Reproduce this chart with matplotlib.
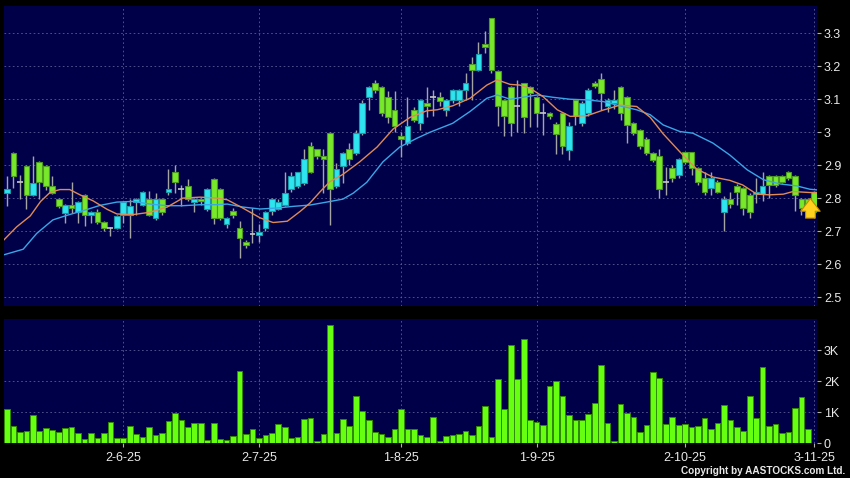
import matplotlib
matplotlib.use("Agg")
import matplotlib.pyplot as plt
from matplotlib.ticker import FuncFormatter
import numpy as np

plt.rcParams['font.family'] = ['Liberation Sans', 'DejaVu Sans']

# Daily OHLC (one entry per trading day)
opens = [2.815, 2.936, 2.848, 2.897, 2.810, 2.909, 2.897, 2.837, 2.796, 2.756,
         2.779, 2.757, 2.809, 2.749, 2.757, 2.727, 2.708, 2.708, 2.749, 2.749,
         2.788, 2.780, 2.796, 2.740, 2.797, 2.818, 2.880, 2.828, 2.838, 2.788,
         2.798, 2.768, 2.859, 2.828, 2.720, 2.760, 2.710, 2.668, 2.690, 2.688,
         2.710, 2.760, 2.767, 2.780, 2.827, 2.837, 2.847, 2.957, 2.948, 2.928,
         2.997, 2.837, 2.898, 2.948, 2.937, 2.997, 3.106, 3.148, 3.136, 3.106,
         3.068, 2.989, 2.967, 3.068, 3.027, 3.088, 3.106, 3.106, 3.068, 3.098,
         3.098, 3.128, 3.207, 3.189, 3.268, 3.345, 3.187, 3.098, 3.136, 3.080,
         3.148, 3.136, 3.108, 3.057, 3.057, 3.026, 3.057, 2.947, 3.097, 3.028,
         3.059, 3.149, 3.160, 3.081, 3.089, 3.137, 3.107, 3.028, 3.008, 2.980,
         2.937, 2.929, 2.849, 2.890, 2.869, 2.939, 2.939, 2.890, 2.860, 2.830,
         2.850, 2.759, 2.797, 2.838, 2.830, 2.810, 2.812, 2.812, 2.868, 2.868,
         2.868, 2.880, 2.868, 2.797, 2.797, 2.820]
highs = [2.867, 2.940, 2.870, 2.900, 2.929, 2.912, 2.900, 2.867, 2.800, 2.782,
         2.848, 2.790, 2.812, 2.762, 2.767, 2.730, 2.712, 2.750, 2.790, 2.796,
         2.800, 2.822, 2.822, 2.815, 2.800, 2.889, 2.900, 2.840, 2.859, 2.800,
         2.800, 2.830, 2.862, 2.832, 2.742, 2.770, 2.730, 2.672, 2.770, 2.720,
         2.760, 2.800, 2.797, 2.878, 2.878, 2.880, 2.948, 2.969, 2.950, 2.950,
         3.000, 2.908, 2.940, 2.966, 3.007, 3.098, 3.140, 3.159, 3.140, 3.126,
         3.126, 3.000, 3.106, 3.075, 3.100, 3.136, 3.128, 3.123, 3.100, 3.130,
         3.130, 3.179, 3.229, 3.275, 3.308, 3.347, 3.190, 3.100, 3.140, 3.157,
         3.150, 3.140, 3.110, 3.090, 3.060, 3.030, 3.060, 3.030, 3.100, 3.095,
         3.135, 3.155, 3.180, 3.105, 3.129, 3.140, 3.110, 3.032, 3.010, 2.985,
         2.940, 2.950, 2.895, 2.900, 2.922, 2.940, 2.940, 2.895, 2.880, 2.880,
         2.855, 2.805, 2.820, 2.842, 2.835, 2.815, 2.860, 2.880, 2.870, 2.870,
         2.870, 2.882, 2.870, 2.800, 2.800, 2.822]
lows = [2.776, 2.830, 2.796, 2.766, 2.805, 2.796, 2.826, 2.812, 2.770, 2.725,
        2.755, 2.725, 2.715, 2.725, 2.720, 2.700, 2.685, 2.705, 2.725, 2.678,
        2.750, 2.775, 2.745, 2.735, 2.750, 2.810, 2.816, 2.776, 2.790, 2.757,
        2.780, 2.760, 2.720, 2.735, 2.710, 2.740, 2.619, 2.650, 2.665, 2.667,
        2.700, 2.750, 2.763, 2.775, 2.820, 2.830, 2.840, 2.875, 2.920, 2.815,
        2.717, 2.830, 2.847, 2.900, 2.930, 2.990, 3.068, 3.120, 3.050, 3.027,
        3.000, 2.926, 2.960, 3.030, 3.007, 3.047, 3.050, 3.078, 3.050, 3.090,
        3.080, 3.098, 3.098, 3.185, 3.240, 3.180, 3.019, 2.989, 2.989, 3.000,
        2.997, 3.017, 3.017, 2.990, 3.040, 2.935, 2.935, 2.917, 3.021, 3.020,
        3.050, 3.135, 3.067, 3.060, 3.070, 3.038, 2.968, 2.990, 2.950, 2.930,
        2.910, 2.800, 2.810, 2.850, 2.860, 2.905, 2.870, 2.840, 2.810, 2.810,
        2.815, 2.699, 2.770, 2.780, 2.750, 2.740, 2.785, 2.790, 2.800, 2.835,
        2.845, 2.855, 2.760, 2.750, 2.760, 2.755]
closes = [2.827, 2.867, 2.848, 2.810, 2.847, 2.848, 2.838, 2.816, 2.777, 2.779,
          2.770, 2.787, 2.749, 2.757, 2.727, 2.708, 2.708, 2.747, 2.787, 2.777,
          2.798, 2.818, 2.750, 2.797, 2.758, 2.828, 2.850, 2.828, 2.798, 2.798,
          2.791, 2.828, 2.740, 2.740, 2.740, 2.750, 2.680, 2.658, 2.690, 2.698,
          2.758, 2.798, 2.787, 2.817, 2.868, 2.878, 2.918, 2.879, 2.927, 2.918,
          2.827, 2.888, 2.936, 2.918, 2.997, 3.089, 3.136, 3.128, 3.058, 3.047,
          3.019, 2.979, 3.019, 3.037, 3.098, 3.078, 3.106, 3.096, 3.098, 3.128,
          3.128, 3.148, 3.189, 3.237, 3.258, 3.189, 3.078, 3.049, 3.027, 3.080,
          3.047, 3.118, 3.058, 3.057, 3.049, 2.996, 2.958, 3.018, 3.048, 3.089,
          3.129, 3.139, 3.119, 3.099, 3.099, 3.059, 3.021, 2.998, 2.958, 2.937,
          2.917, 2.829, 2.849, 2.860, 2.919, 2.911, 2.890, 2.850, 2.820, 2.860,
          2.820, 2.797, 2.781, 2.820, 2.769, 2.759, 2.820, 2.838, 2.840, 2.840,
          2.850, 2.860, 2.810, 2.770, 2.770, 2.759]

# Volume in thousands
volumes = [1.10, 0.57, 0.35, 0.39, 0.91, 0.41, 0.48, 0.42, 0.38, 0.49,
           0.52, 0.34, 0.13, 0.33, 0.17, 0.32, 0.70, 0.16, 0.17, 0.56,
           0.30, 0.19, 0.52, 0.27, 0.33, 0.72, 0.97, 0.76, 0.54, 0.66,
           0.66, 0.12, 0.66, 0.14, 0.10, 0.24, 2.34, 0.29, 0.47, 0.16,
           0.26, 0.32, 0.61, 0.54, 0.16, 0.19, 0.78, 0.81, 0.06, 0.30,
           3.81, 0.33, 0.77, 0.56, 1.52, 1.03, 0.76, 0.37, 0.30, 0.19,
           0.46, 1.10, 0.46, 0.46, 0.26, 0.20, 0.84, 0.06, 0.22, 0.26,
           0.29, 0.40, 0.27, 0.55, 1.19, 0.19, 2.08, 1.10, 3.17, 2.08,
           3.37, 0.74, 0.68, 0.60, 1.86, 2.00, 1.51, 0.91, 0.75, 0.75,
           0.94, 1.29, 2.54, 0.65, 0.09, 1.28, 0.99, 0.84, 0.37, 0.60,
           2.30, 2.10, 0.62, 0.86, 0.59, 0.62, 0.54, 0.56, 0.82, 0.46,
           0.67, 1.24, 0.75, 0.54, 0.39, 1.53, 0.82, 2.46, 0.56, 0.62,
           0.33, 0.37, 1.14, 1.48, 0.46, 0.0]

# Moving averages (position in days, value)
ma_fast_x = [-0.5, 1.5, 3.6, 5.2, 6.7, 8.2, 9.7, 11.3, 13.3, 15.5, 17.0, 19.5, 22.1,
             24.8, 27.2, 29.9, 32.5, 34.1, 36.5, 39.2, 41.2, 43.4, 45.4, 46.9, 48.5,
             50.0, 52.0, 54.6, 57.3, 59.8, 62.4, 65.0, 66.6, 69.0, 71.7, 74.3, 75.9,
             77.9, 79.4, 81.0, 83.0, 85.2, 87.2, 89.8, 92.3, 94.9, 97.5, 99.6, 101.6,
             104.2, 106.8, 109.3, 111.9, 113.9, 116.1, 118.1, 120.2, 121.7, 124.3, 125.4]
ma_fast = [2.673, 2.713, 2.746, 2.790, 2.818, 2.826, 2.826, 2.810, 2.792, 2.766, 2.752,
           2.750, 2.757, 2.773, 2.800, 2.803, 2.800, 2.795, 2.770, 2.740, 2.726, 2.730,
           2.760, 2.785, 2.820, 2.850, 2.872, 2.910, 2.955, 3.010, 3.045, 3.065, 3.068,
           3.080, 3.103, 3.143, 3.159, 3.145, 3.143, 3.133, 3.108, 3.068, 3.048, 3.050,
           3.067, 3.082, 3.078, 3.045, 2.995, 2.940, 2.888, 2.864, 2.854, 2.840, 2.812,
           2.810, 2.812, 2.820, 2.817, 2.817]
ma_slow_x = [-0.5, 2.5, 4.6, 7.1, 9.3, 11.8, 14.4, 17.0, 19.5, 22.1, 24.8, 27.2, 29.9,
             32.5, 34.1, 36.5, 39.2, 41.8, 44.3, 46.9, 49.5, 52.0, 53.6, 55.7, 58.2,
             60.8, 63.5, 65.5, 69.0, 71.7, 74.3, 75.9, 77.9, 82.1, 84.5, 87.2, 89.8,
             92.3, 94.9, 97.5, 99.6, 101.6, 104.2, 106.2, 109.3, 111.9, 114.6, 117.1,
             119.7, 122.3, 124.3, 125.4]
ma_slow = [2.628, 2.645, 2.693, 2.734, 2.748, 2.762, 2.778, 2.788, 2.790, 2.782, 2.777,
           2.777, 2.780, 2.780, 2.782, 2.773, 2.767, 2.770, 2.775, 2.779, 2.788, 2.797,
           2.815, 2.848, 2.910, 2.955, 2.982, 3.000, 3.027, 3.063, 3.103, 3.113, 3.100,
           3.113, 3.106, 3.100, 3.098, 3.093, 3.080, 3.068, 3.053, 3.022, 3.002, 2.997,
           2.967, 2.931, 2.886, 2.856, 2.843, 2.837, 2.827, 2.825]

# Date labels and the trading-day index they sit on
date_pos = [18, 39, 61, 82, 105, 125]
date_labels = ['2-6-25', '2-7-25', '1-8-25', '1-9-25', '2-10-25', '3-11-25']

price_ticks = [2.5, 2.6, 2.7, 2.8, 2.9, 3.0, 3.1, 3.2, 3.3]
vol_ticks = [0, 1, 2, 3]

# Colours
bg_panel = '#000049'
up_color = '#2ee4ee'
up_edge = '#1a9aa8'
down_color = '#78e82a'
down_edge = '#4c9a22'
wick_color = '#a4a4a4'
grid_color = '#5c5c96'
text_color = '#e8e8e8'

opens, highs, lows, closes = map(np.array, (opens, highs, lows, closes))
x = np.arange(len(closes))

fig = plt.figure(figsize=(8.5, 4.78), dpi=100, facecolor='black')
ax = fig.add_axes([0.0047, 0.3598, 0.9565, 0.6276], facecolor=bg_panel)
axv = fig.add_axes([0.0047, 0.0726, 0.9565, 0.2600], facecolor=bg_panel, sharex=ax)

# Grid first so marks sit on top
for a in (ax, axv):
    for s in a.spines.values():
        s.set_visible(False)
    a.grid(True, color=grid_color, linestyle=(0, (2, 3)), linewidth=0.6)
    a.set_axisbelow(True)

# Wicks
ax.vlines(x, lows, highs, color=wick_color, linewidth=1.0, zorder=2)

# Bodies
up = closes > opens
down = closes < opens
flat = ~(up | down)
ax.bar(x[up], (closes - opens)[up], bottom=opens[up], width=0.88,
       color=up_color, edgecolor=up_edge, linewidth=0.8, zorder=3)
ax.bar(x[down], (opens - closes)[down], bottom=closes[down], width=0.88,
       color=down_color, edgecolor=down_edge, linewidth=0.8, zorder=3)
ax.hlines(closes[flat], x[flat] - 0.45, x[flat] + 0.45, color='#c8c8c8',
          linewidth=1.2, zorder=3)

# Moving averages
ax.plot(ma_slow_x, ma_slow, color='#3aa6e6', linewidth=1.0, zorder=4)
ax.plot(ma_fast_x, ma_fast, color='#e08a55', linewidth=1.0, zorder=4)

# Arrow marking the latest day
last = len(closes) - 1
ax.annotate('', xy=(last - 0.6, lows[last] + 0.052), xytext=(last - 0.6, lows[last] - 0.024),
            arrowprops=dict(arrowstyle='simple,head_length=0.65,head_width=1.0,tail_width=0.5',
                            fc='#ffd21f', ec='#c88a00', lw=0.8, mutation_scale=14),
            zorder=6)

ax.set_xlim(-0.47, 125.42)
ax.set_ylim(2.4727, 3.3828)
ax.set_yticks(price_ticks)
ax.yaxis.tick_right()
ax.yaxis.set_major_formatter(FuncFormatter(lambda v, p: '%g' % round(v, 1)))
ax.tick_params(axis='y', colors='#b0b0b0', labelcolor=text_color, length=3, pad=2,
               labelsize=9)
ax.set_xticks(date_pos)
ax.tick_params(axis='x', bottom=False, labelbottom=False)

# Volume
axv.bar(x, volumes, width=0.88, color='#66ff11', edgecolor='#2f8a00', linewidth=0.7, zorder=3)
axv.set_ylim(0, 4.01)
axv.set_yticks(vol_ticks)
axv.yaxis.tick_right()
axv.yaxis.set_major_formatter(FuncFormatter(lambda v, p: '0' if v == 0 else '%dK' % v))
axv.tick_params(axis='y', colors='#b0b0b0', labelcolor=text_color, length=3, pad=2,
                labelsize=9)
axv.set_xticks(date_pos)
axv.set_xticklabels(date_labels)
axv.tick_params(axis='x', colors='#b0b0b0', labelcolor=text_color, length=3, pad=3,
                labelsize=9)

fig.text(0.994, 0.0146, 'Copyright by AASTOCKS.com Ltd.', ha='right', va='center',
         color=text_color, fontsize=7.2, weight='bold')

plt.savefig('out.png', dpi=100, facecolor='black')
